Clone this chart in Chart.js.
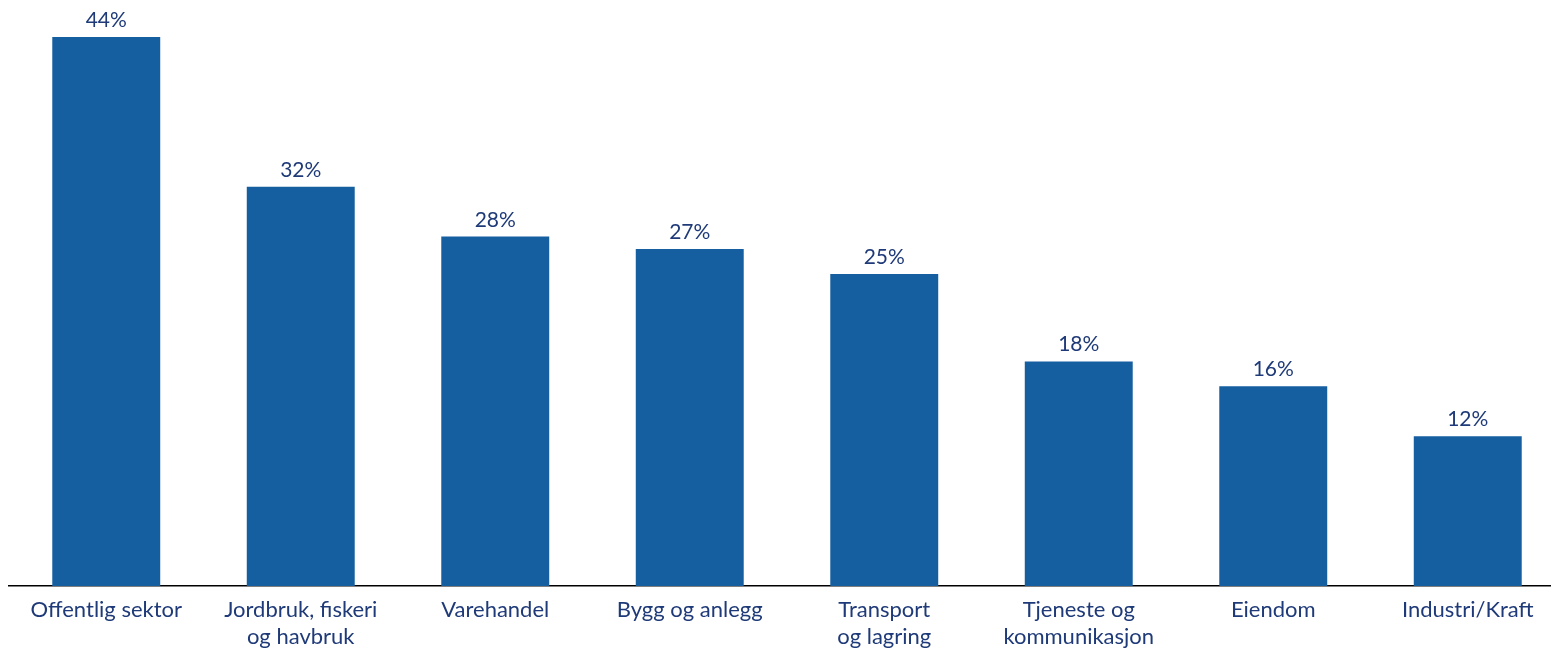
<!DOCTYPE html>
<html>
<head>
<meta charset="utf-8">
<script src="https://cdn.jsdelivr.net/npm/chart.js@4/dist/chart.umd.min.js"></script>
<style>
  html, body { margin: 0; padding: 0; background: #fff; overflow: hidden; }
  #wrap { width: 1565px; height: 650px; }
</style>
</head>
<body>
<div id="wrap"><canvas id="chart"></canvas></div>
<script>
// kategorier og andeler (%)
const categories = [
  'Offentlig sektor',
  ['Jordbruk, fiskeri', 'og havbruk'],
  'Varehandel',
  'Bygg og anlegg',
  ['Transport', 'og lagring'],
  ['Tjeneste og', 'kommunikasjon'],
  'Eiendom',
  'Industri/Kraft'
]
const values = [44, 32, 28, 27, 25, 18, 16, 12]

const barColor = '#155FA0'
const textColor = '#1F3A78'
const fontFamily = 'Lato, "Open Sans", sans-serif'

// tegner prosentverdien over hver søyle
const valueLabels = {
  id: 'valueLabels',
  afterDatasetsDraw(chart) {
    const { ctx } = chart
    const meta = chart.getDatasetMeta(0)
    ctx.save()
    ctx.fillStyle = textColor
    ctx.font = `21px ${fontFamily}`
    ctx.textAlign = 'center'
    ctx.textBaseline = 'alphabetic'
    meta.data.forEach((bar, i) => {
      ctx.fillText(values[i] + '%', bar.x, bar.y - 10)
    })
    ctx.restore()
  }
}

new Chart(document.getElementById('chart'), {
  type: 'bar',
  data: {
    labels: categories,
    datasets: [{
      data: values,
      backgroundColor: barColor,
      categoryPercentage: 1,
      barPercentage: 0.555,
    }],
  },
  options: {
    responsive: true,
    maintainAspectRatio: false,
    animation: false,
    layout: { padding: { left: 9, right: 0, top: 12, bottom: 0 } },
    plugins: {
      legend: { display: false },
      tooltip: { enabled: false },
    },
    scales: {
      x: {
        grid: { display: false, drawTicks: false },
        border: { display: true, color: '#000', width: 1.5 },
        ticks: {
          color: textColor,
          font: { family: fontFamily, size: 22, lineHeight: 1.2 },
          padding: 11,
          maxRotation: 0,
          autoSkip: false,
        },
        afterFit: scale => { scale.height = 64 },
      },
      y: {
        display: false,
        min: 0,
        max: 46,
      },
    },
  },
  plugins: [valueLabels],
})
</script>
</body>
</html>
